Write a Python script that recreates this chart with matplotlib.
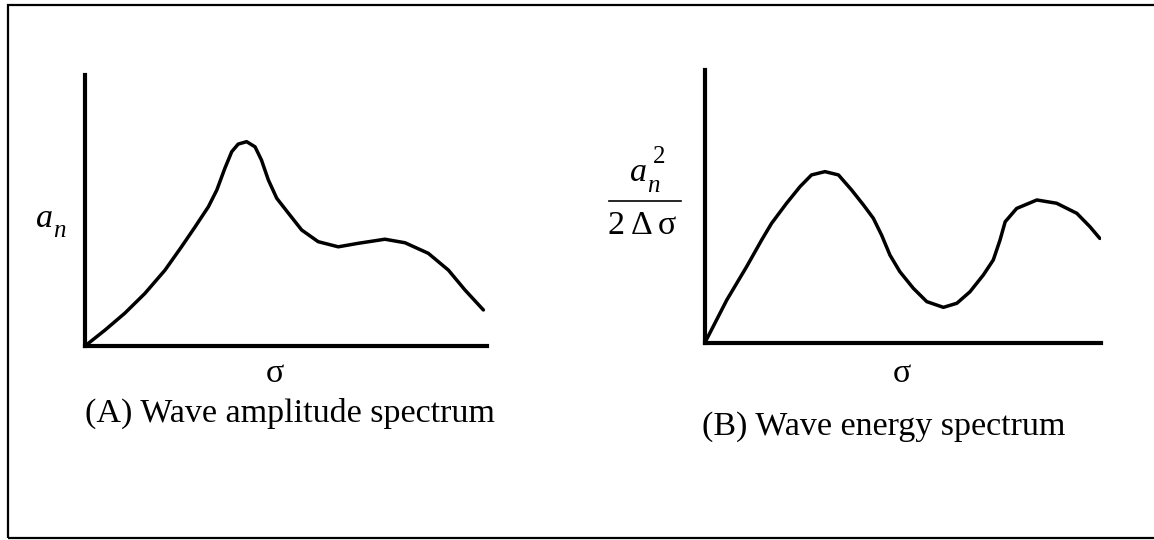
import matplotlib
matplotlib.use("Agg")
import matplotlib.pyplot as plt
from matplotlib.patches import Rectangle
from matplotlib.lines import Line2D

plt.rcParams['font.family'] = ['Liberation Serif', 'DejaVu Serif']

# amplitude spectrum a_n(sigma), arbitrary units
amp_sigma = [0.0, 0.50, 0.99, 1.49, 1.99, 2.40, 2.74, 3.07, 3.28, 3.48, 3.65, 3.81,
             4.02, 4.23, 4.39, 4.56, 4.77, 5.06, 5.39, 5.80, 6.30, 6.80, 7.46, 7.96,
             8.54, 9.04, 9.45, 9.91]
amp_an = [0.0, 0.59, 1.21, 1.94, 2.80, 3.66, 4.40, 5.14, 5.76, 6.56, 7.17, 7.45,
          7.54, 7.35, 6.86, 6.13, 5.45, 4.90, 4.28, 3.85, 3.66, 3.79, 3.94, 3.81,
          3.42, 2.80, 2.07, 1.33]

# energy spectrum a_n^2 / (2 d sigma), arbitrary units
en_sigma = [0.0, 0.55, 1.05, 1.43, 1.68, 2.06, 2.40, 2.69, 3.03, 3.37, 3.70, 4.00,
            4.25, 4.46, 4.67, 4.92, 5.26, 5.60, 6.02, 6.36, 6.69, 7.03, 7.28, 7.45,
            7.58, 7.87, 8.38, 8.88, 9.39, 9.72, 9.97]
en_val = [0.0, 1.56, 2.78, 3.76, 4.37, 5.11, 5.72, 6.15, 6.27, 6.15, 5.60, 5.05,
          4.56, 3.94, 3.21, 2.60, 1.99, 1.50, 1.29, 1.44, 1.86, 2.48, 3.03, 3.76,
          4.43, 4.92, 5.23, 5.11, 4.74, 4.25, 3.82]

W, H = 1154, 540
fig = plt.figure(figsize=(W / 100, H / 100), dpi=100)


def box(x0, x1, ytop, ybot):
    # pixel box (from top-left) -> figure fraction rect
    return [x0 / W, 1 - ybot / H, (x1 - x0) / W, (ybot - ytop) / H]


def fx(x):
    return x / W


def fy(y):
    return 1 - y / H


def panel(rect, xs, ys):
    ax = fig.add_axes(rect)
    ax.plot(xs, ys, color='black', lw=2.5, solid_capstyle='round', solid_joinstyle='round')
    ax.set_xlim(0, 10)
    ax.set_ylim(0, 10)
    for s in ['top', 'right']:
        ax.spines[s].set_visible(False)
    for s in ['left', 'bottom']:
        ax.spines[s].set_linewidth(3.0)
        ax.spines[s].set_capstyle('projecting')
    ax.set_xticks([])
    ax.set_yticks([])
    ax.patch.set_alpha(0)
    return ax


panel(box(85, 487, 75, 346), amp_sigma, amp_an)
panel(box(705, 1101, 70, 342.5), en_sigma, en_val)

fs = 24.5


def label(x, y, s, size=fs, **kw):
    fig.text(fx(x), fy(y), s, fontsize=size, ha='center', va='center', **kw)


# left panel labels
label(44, 219, 'a', style='italic')
label(59, 231, 'n', size=18, style='italic')
label(275, 374, 'σ')
label(290, 413, '(A) Wave amplitude spectrum')

# right panel labels
label(638, 173, 'a', style='italic')
label(653, 186, 'n', size=18, style='italic')
label(659, 157, '2', size=18)
fig.add_artist(Line2D([fx(609), fx(681)], [fy(201), fy(201)], color='black', lw=1.2))
label(616, 226, '2')
label(642, 226, 'Δ')
label(667, 226, 'σ')
label(902, 374, 'σ')
label(884, 427, '(B) Wave energy spectrum')

# frame around the figure
fig.add_artist(Rectangle((fx(8), fy(538)), fx(1160 - 8), (538 - 5) / H,
                         fill=False, edgecolor='black', lw=1.6, clip_on=False))

fig.savefig('out.png', dpi=100)
